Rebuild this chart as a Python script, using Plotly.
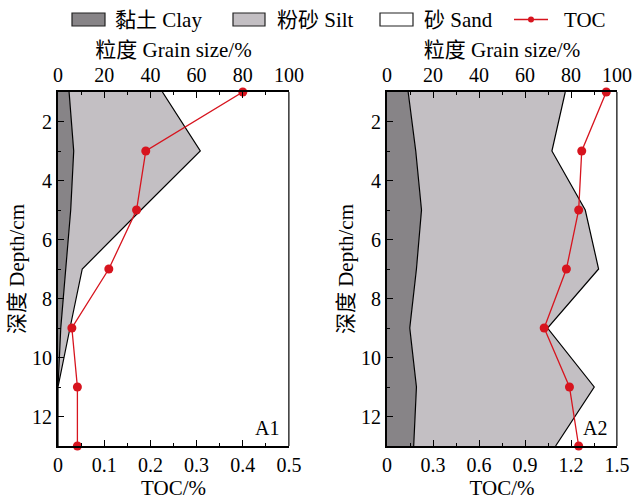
import plotly.graph_objects as go

depth = [1, 3, 5, 7, 9, 11, 13]

# Panel A1
a1_clay = [4.8, 6.8, 5.5, 3.2, 1.2, 0.0, 0.0]
a1_silt = [40.4, 54.8, 30.4, 7.3, 4.0, 0.0, 0.0]
a1_toc = [0.40, 0.19, 0.17, 0.11, 0.03, 0.042, 0.042]

# Panel A2
a2_clay = [9.2, 12.5, 15.0, 12.8, 9.9, 12.8, 11.6]
a2_silt = [68.3, 59.2, 71.2, 79.2, 59.9, 77.3, 61.7]
a2_toc = [1.43, 1.27, 1.25, 1.17, 1.025, 1.19, 1.25]

labels = ["黏土 Clay", "粉砂 Silt", "砂 Sand", "TOC"]
grain_title = "粒度 Grain size/%"
toc_title = "TOC/%"
depth_title = "深度 Depth/cm"
panel_names = ["A1", "A2"]

CLAY_C = "#878487"
SILT_C = "#c3bfc3"
RED = "#d7141e"
FONT = "Liberation Serif, Noto Sans CJK SC, serif"

fig = go.Figure()

def add_panel(clay, silt, toc, xg, xt, ya):
    cum1 = clay
    cum2 = [c + s for c, s in zip(clay, silt)]
    sand_edge = [100 for _ in depth]
    fig.add_trace(go.Scatter(x=cum1, y=depth, mode="lines", fill="tozerox",
                             fillcolor=CLAY_C, line=dict(color="black", width=1.2),
                             name=labels[0], showlegend=False,
                             xaxis=xg, yaxis=ya, hoverinfo="skip"))
    fig.add_trace(go.Scatter(x=cum2, y=depth, mode="lines", fill="tonextx",
                             fillcolor=SILT_C, line=dict(color="black", width=1.2),
                             name=labels[1], showlegend=False,
                             xaxis=xg, yaxis=ya, hoverinfo="skip"))
    fig.add_trace(go.Scatter(x=sand_edge, y=depth, mode="lines", fill="tonextx",
                             fillcolor="white", line=dict(color="black", width=1.2),
                             name=labels[2], showlegend=False,
                             xaxis=xg, yaxis=ya, hoverinfo="skip"))
    fig.add_trace(go.Scatter(x=toc, y=depth, mode="lines+markers",
                             line=dict(color=RED, width=1.3),
                             marker=dict(color=RED, size=9),
                             name=labels[3], showlegend=False,
                             cliponaxis=False,
                             xaxis=xt, yaxis=ya))

add_panel(a1_clay, a1_silt, a1_toc, "x", "x2", "y")
add_panel(a2_clay, a2_silt, a2_toc, "x3", "x4", "y2")

H = 500.0
W = 635.0
ytop = 1 - 92 / H
ybot = 1 - 446 / H
d1 = [58 / W, 289 / W]
d2 = [387 / W, 617 / W]

tickfont = dict(family=FONT, size=20, color="black")
titlefont = dict(family=FONT, size=21, color="black")

def grain_axis(domain, anchor):
    return dict(domain=domain, anchor=anchor, side="top", range=[0, 100],
                tickvals=[0, 20, 40, 60, 80, 100], ticks="inside", ticklen=6,
                tickwidth=1.2, tickcolor="black",
                minor=dict(tickvals=[10, 30, 50, 70, 90], ticks="inside", ticklen=3,
                           tickcolor="black", tickwidth=1.2),
                showline=True, linecolor="black", linewidth=1.5, showgrid=False,
                zeroline=False, tickfont=tickfont,
                title=dict(text=grain_title, font=titlefont, standoff=1),
                automargin=False)

def toc_axis(domain, anchor, overl, rng, vals, minors, texts):
    return dict(domain=domain, anchor=anchor, side="bottom", overlaying=overl,
                range=rng, tickvals=vals, ticktext=texts, ticks="inside", ticklen=6,
                tickwidth=1.2, tickcolor="black",
                minor=dict(tickvals=minors, ticks="inside", ticklen=3,
                           tickcolor="black", tickwidth=1.2),
                showline=True, linecolor="black", linewidth=1.5, showgrid=False,
                zeroline=False, tickfont=tickfont,
                title=dict(text=toc_title, font=titlefont, standoff=5),
                automargin=False)

def depth_axis(domain, anchor):
    return dict(domain=domain, anchor=anchor, range=[13, 1],
                tickvals=[2, 4, 6, 8, 10, 12], ticks="inside", ticklen=6,
                tickwidth=1.2, tickcolor="black",
                minor=dict(tickvals=[3, 5, 7, 9, 11], ticks="inside", ticklen=3,
                           tickcolor="black", tickwidth=1.2),
                showline=True, linecolor="black", linewidth=1.8, showgrid=False,
                zeroline=False, tickfont=tickfont,
                title=dict(text=depth_title, font=titlefont, standoff=2),
                automargin=False)

toc1_vals = [0, 0.1, 0.2, 0.3, 0.4, 0.5]
toc1_text = ["0", "0.1", "0.2", "0.3", "0.4", "0.5"]
toc1_minor = [0.05, 0.15, 0.25, 0.35, 0.45]
toc2_vals = [0, 0.3, 0.6, 0.9, 1.2, 1.5]
toc2_text = ["0", "0.3", "0.6", "0.9", "1.2", "1.5"]
toc2_minor = [0.15, 0.45, 0.75, 1.05, 1.35]

fig.update_layout(
    width=635, height=500,
    margin=dict(l=0, r=0, t=0, b=0),
    paper_bgcolor="white", plot_bgcolor="white",
    font=dict(family=FONT, size=20, color="black"),
    xaxis=grain_axis(d1, "y"),
    xaxis2=toc_axis(d1, "y", "x", [0, 0.5], toc1_vals, toc1_minor, toc1_text),
    xaxis3=grain_axis(d2, "y2"),
    xaxis4=toc_axis(d2, "y2", "x3", [0, 1.5], toc2_vals, toc2_minor, toc2_text),
    yaxis=depth_axis([ybot, ytop], "x"),
    yaxis2=depth_axis([ybot, ytop], "x3"),
    showlegend=False,
)

# right border lines (no ticks)
for d in (d1, d2):
    fig.add_shape(type="line", xref="paper", yref="paper", x0=d[1], x1=d[1],
                  y0=ybot, y1=ytop, line=dict(color="#333333", width=1.2))

# custom legend (boxes + line symbol + text)
def px(x):
    return x / W

def py(y):
    return 1 - y / H

leg_y0, leg_y1, leg_mid = 13, 26, 19.5
boxes = [(72, 105, CLAY_C), (233, 265, SILT_C), (380, 413, "white")]
text_x = [113, 275, 422, 562]
for (x0, x1, col) in boxes:
    fig.add_shape(type="rect", xref="paper", yref="paper",
                  x0=px(x0), x1=px(x1), y0=py(leg_y1), y1=py(leg_y0),
                  fillcolor=col, line=dict(color="#222222", width=1.2))
fig.add_shape(type="line", xref="paper", yref="paper",
              x0=px(514), x1=px(548), y0=py(leg_mid), y1=py(leg_mid),
              line=dict(color=RED, width=1.3))
fig.add_shape(type="circle", xref="paper", yref="paper",
              x0=px(528), x1=px(534), y0=py(leg_mid + 3), y1=py(leg_mid - 3),
              fillcolor=RED, line=dict(color=RED, width=0))
for tx, lab in zip(text_x, labels):
    fig.add_annotation(text=lab, xref="paper", yref="paper", x=px(tx), y=py(leg_mid),
                       xanchor="left", yanchor="middle", showarrow=False,
                       font=dict(family=FONT, size=21, color="black"))

fig.add_annotation(text=panel_names[0], xref="paper", yref="paper",
                   x=px(281), y=py(428), xanchor="right", yanchor="middle",
                   showarrow=False, font=dict(family=FONT, size=20, color="black"))
fig.add_annotation(text=panel_names[1], xref="paper", yref="paper",
                   x=px(609), y=py(428), xanchor="right", yanchor="middle",
                   showarrow=False, font=dict(family=FONT, size=20, color="black"))

fig.write_html("out.html")
